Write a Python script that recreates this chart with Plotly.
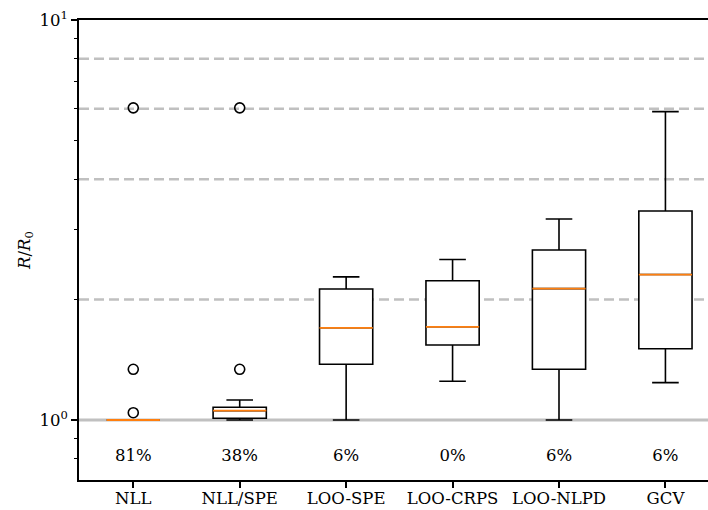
import plotly.graph_objects as go

categories = ["NLL", "NLL/SPE", "LOO-SPE", "LOO-CRPS", "LOO-NLPD", "GCV"]
q1 = [1.0, 1.01, 1.378, 1.54, 1.339, 1.507]
median = [1.0, 1.055, 1.70, 1.71, 2.13, 2.31]
q3 = [1.0, 1.076, 2.125, 2.23, 2.66, 3.33]
lowerfence = [1.0, 1.0, 1.0, 1.25, 1.0, 1.24]
upperfence = [1.0, 1.122, 2.28, 2.52, 3.18, 5.90]
outliers = [[6.03, 1.339, 1.043], [6.03, 1.339], [], [], [], []]
pct_labels = ["81%", "38%", "6%", "0%", "6%", "6%"]
ref_dashed = [2, 4, 6, 8]
ref_solid = 1.0
label_y = 0.81

FONT = "DejaVu Serif"
FS = 16.5
positions = [i + 1 for i in range(len(categories))]
box_w = 0.5

fig = go.Figure()

for p, a, m, b, lo, hi in zip(positions, q1, median, q3, lowerfence, upperfence):
    fig.add_trace(go.Box(
        x=[p], q1=[a], median=[m], q3=[b], lowerfence=[lo], upperfence=[hi],
        width=box_w, whiskerwidth=0.5, boxpoints=False,
        line=dict(color="black", width=1.6), fillcolor="white",
        showlegend=False, hoverinfo="skip",
    ))
    fig.add_trace(go.Scatter(
        x=[p - box_w / 2, p + box_w / 2], y=[m, m], mode="lines",
        line=dict(color="#ff7f0e", width=1.8), showlegend=False, hoverinfo="skip",
    ))

for p, outs in zip(positions, outliers):
    if outs:
        fig.add_trace(go.Scatter(
            x=[p] * len(outs), y=outs, mode="markers",
            marker=dict(symbol="circle-open", size=10, color="black", line=dict(width=1.6)),
            showlegend=False, hoverinfo="skip",
        ))

fig.add_trace(go.Scatter(
    x=positions, y=[label_y] * len(positions), mode="text", text=pct_labels,
    textfont=dict(family=FONT, size=FS, color="black"), showlegend=False, hoverinfo="skip",
))

for v in ref_dashed:
    fig.add_shape(type="line", xref="paper", x0=0, x1=1, yref="y", y0=v, y1=v,
                  line=dict(color="#c0c0c0", width=2.5, dash="10px,5px"), layer="below")
fig.add_shape(type="line", xref="paper", x0=0, x1=1, yref="y", y0=ref_solid, y1=ref_solid,
              line=dict(color="#c0c0c0", width=3), layer="below")

fig.update_layout(
    width=708, height=510,
    margin=dict(l=79, r=0, t=20, b=30),
    paper_bgcolor="white", plot_bgcolor="white",
    font=dict(family=FONT, size=FS, color="black"),
    xaxis=dict(
        range=[0.49, 6.40], tickvals=positions, ticktext=categories,
        showline=True, linecolor="black", linewidth=1.5, mirror=True,
        ticks="outside", ticklen=6, tickwidth=1.5, tickcolor="black",
        showgrid=False, zeroline=False, automargin=False,
        ticklabelstandoff=-4,
        tickfont=dict(family=FONT, size=FS),
    ),
    yaxis=dict(
        type="log", range=[-0.15, 1.0],
        tickvals=[1, 10], ticktext=["10<sup>0</sup>", "10<sup>1</sup>"],
        showline=True, linecolor="black", linewidth=1.5,
        ticks="outside", ticklen=6, tickwidth=1.5, tickcolor="black",
        showgrid=False, zeroline=False, automargin=False,
        minor=dict(ticks="outside", ticklen=3.5, tickwidth=1, tickcolor="black",
                   tickvals=[0.8, 0.9, 2, 3, 4, 5, 6, 7, 8, 9], showgrid=False),
        title=dict(text="<i>R</i>/<i>R</i><sub>0</sub>", font=dict(family=FONT, size=FS), standoff=5),
        tickfont=dict(family=FONT, size=FS),
    ),
)

fig.write_html("out.html", config={"displayModeBar": False},
               post_script="document.body.style.margin='0px';document.body.style.padding='0px';")
